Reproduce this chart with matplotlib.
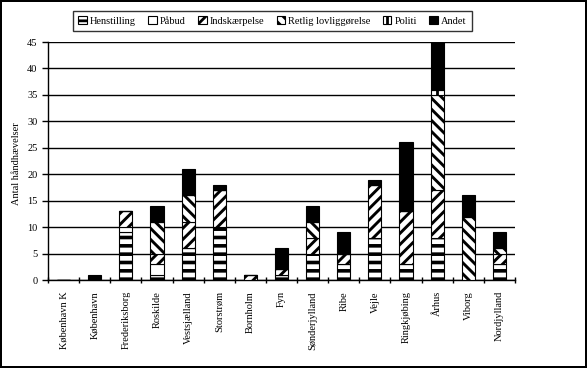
import matplotlib
matplotlib.use('Agg')
import matplotlib.pyplot as plt
import numpy as np

plt.rcParams['font.family'] = ['Liberation Serif', 'DejaVu Serif']
plt.rcParams['hatch.linewidth'] = 2.0
plt.rcParams['hatch.color'] = 'black'

amter = ['København K', 'København', 'Frederiksborg', 'Roskilde', 'Vestsjælland',
         'Storstrøm', 'Bornholm', 'Fyn', 'Sønderjylland', 'Ribe', 'Vejle',
         'Ringkjøbing', 'Århus', 'Viborg', 'Nordjylland']

henstilling = [0, 0, 9, 1, 6, 10, 0, 1, 5, 3, 8, 3, 8, 0, 3]
paabud = [0, 0, 1, 2, 0, 0, 0, 0, 0, 0, 0, 0, 0, 0, 0]
indskaerpelse = [0, 0, 3, 2, 5, 7, 1, 1, 3, 2, 10, 10, 9, 0, 2]
retlig = [0, 0, 0, 6, 5, 0, 0, 0, 3, 0, 0, 0, 18, 12, 1]
politi = [0, 0, 0, 0, 0, 0, 0, 0, 0, 0, 0, 0, 1, 0, 0]
andet = [0, 1, 0, 3, 5, 1, 0, 4, 3, 4, 1, 13, 9, 4, 3]

# navn, data, farve, hatch, hatch-linjebredde
serier = [
    ('Henstilling', henstilling, 'white', '--', 2.6),
    ('Påbud', paabud, 'white', None, 1.0),
    ('Indskærpelse', indskaerpelse, 'white', '///', 2.1),
    ('Retlig lovliggørelse', retlig, 'white', '\\\\\\', 2.1),
    ('Politi', politi, 'white', '||', 2.0),
    ('Andet', andet, 'black', None, 1.0),
]

fig = plt.figure(figsize=(5.87, 3.68), dpi=100)
fig.patch.set_edgecolor('black')
fig.patch.set_linewidth(1.5)
ax = fig.add_axes([48 / 587, 88 / 368, 467 / 587, 238 / 368])

x = np.arange(len(amter))
bund = np.zeros(len(amter))
for navn, vals, farve, hatch, hlw in serier:
    vals = np.array(vals, dtype=float)
    bars = ax.bar(x, vals, 0.42, bottom=bund, color=farve, edgecolor='black',
                  hatch=hatch, linewidth=0.8, label=navn, zorder=3)
    for b in bars:
        try:
            b.set_hatch_linewidth(hlw)
        except AttributeError:
            pass
    bund += vals

ax.set_xlim(-0.5, len(amter) - 0.5)
ax.set_ylim(0, 45)
ax.set_yticks(range(0, 46, 5))
ax.yaxis.grid(True, color='black', linewidth=1, zorder=0)
for s in ['top', 'right']:
    ax.spines[s].set_visible(False)
ax.spines['left'].set_linewidth(1)
ax.spines['bottom'].set_linewidth(1)

ax.set_xticks(x)
ax.set_xticklabels(amter, rotation=90, fontsize=7.5)
ax.tick_params(axis='x', length=0, pad=8)
ax.set_xticks(np.arange(-0.5, len(amter), 1), minor=True)
ax.tick_params(axis='x', which='minor', length=4, width=1, direction='inout')
ax.tick_params(axis='y', length=4, width=1, labelsize=7.5, direction='out')

fig.text(17 / 587, 0.5 + 20 / 368, 'Antal håndhævelser', rotation=90,
         ha='center', va='center', fontsize=7.5)

leg = ax.legend(loc='upper left', bbox_to_anchor=(68 / 587, 1 - 6 / 368),
                bbox_transform=fig.transFigure, ncol=6, fontsize=7.5,
                frameon=True, fancybox=False, edgecolor='black',
                handlelength=0.8, handleheight=0.8, handletextpad=0.3,
                columnspacing=1.2, borderpad=0.5)
leg.get_frame().set_linewidth(1)

fig.savefig('out.png', dpi=100, edgecolor=fig.get_edgecolor())
